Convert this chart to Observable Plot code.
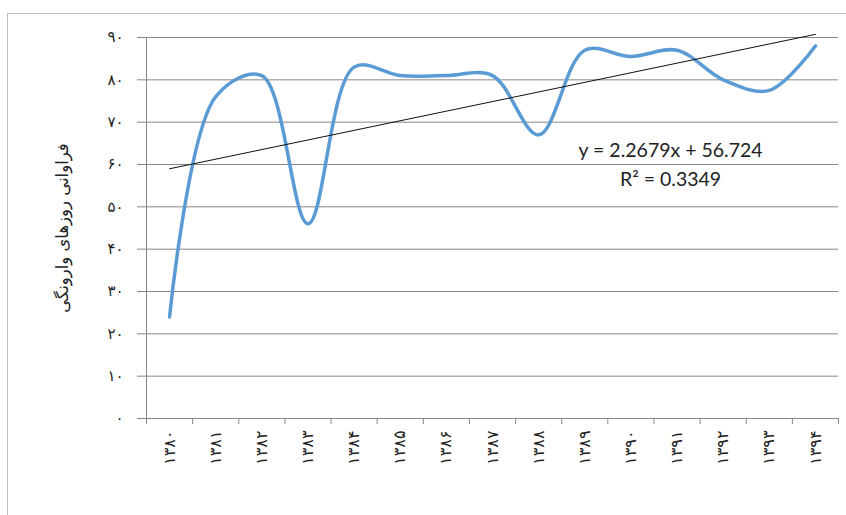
<!DOCTYPE html>
<html>
<head>
<meta charset="utf-8">
<script src="https://cdn.jsdelivr.net/npm/d3@7"></script>
<script src="https://cdn.jsdelivr.net/npm/@observablehq/plot@0.6"></script>
<style>
  html, body { margin: 0; padding: 0; background: #fff; }
  #wrap { position: relative; width: 846px; height: 515px; overflow: hidden; }
  #frame { position: absolute; left: 7px; top: 13px; width: 860px; height: 520px; border: 1px solid #bfbfbf; box-sizing: border-box; pointer-events: none; }
</style>
</head>
<body>
<div id="wrap"><div id="frame"></div></div>
<script>
const years = ["۱۳۸۰","۱۳۸۱","۱۳۸۲","۱۳۸۳","۱۳۸۴","۱۳۸۵","۱۳۸۶","۱۳۸۷","۱۳۸۸","۱۳۸۹","۱۳۹۰","۱۳۹۱","۱۳۹۲","۱۳۹۳","۱۳۹۴"];
const values = [24, 76, 81, 46, 83, 81, 81, 81, 67, 87, 85.5, 87, 80, 77.5, 88];
const yTicks = [0, 10, 20, 30, 40, 50, 60, 70, 80, 90];
const yTickLabels = ["۰","۱۰","۲۰","۳۰","۴۰","۵۰","۶۰","۷۰","۸۰","۹۰"];
const trendSlope = [2.2679];
const trendIntercept = [56.724];
const rSquared = [0.3349];
const yLabel = "فراوانی روزهای وارونگی";

const data = years.map((y, i) => ({idx: i + 1, label: y, value: values[i]}));
const bounds = d3.range(0, years.length + 1).map(i => i + 0.5);
const trend = [1, years.length].map(x => ({x, y: trendSlope[0] * x + trendIntercept[0]}));
const eqLines = [
  {t: `y = ${trendSlope[0]}x + ${trendIntercept[0]}`, y: 63.3},
  {t: `R² = ${rSquared[0]}`, y: 56.5}
];

const plot = Plot.plot({
  width: 846,
  height: 515,
  marginLeft: 146,
  marginRight: 8,
  marginTop: 37,
  marginBottom: 97,
  style: {background: "transparent", overflow: "visible"},
  x: {domain: [0.5, years.length + 0.5], axis: null},
  y: {domain: [0, 90], axis: null},
  marks: [
    Plot.ruleY(yTicks, {x1: 0.5, x2: years.length + 0.5, stroke: "#888", strokeWidth: 1}),
    Plot.ruleX([0.5], {y1: 0, y2: 90, stroke: "#888"}),
    Plot.axisY(yTicks, {tickSize: 9, tickPadding: 14, stroke: "#888", tickFormat: d => yTickLabels[yTicks.indexOf(d)], fontSize: 15, fill: "#222", fontFamily: "DejaVu Sans", label: null}),
    Plot.axisX(bounds, {tickSize: 6, tickFormat: () => "", stroke: "#888", label: null}),
    Plot.text(data, {x: "idx", y: 0, text: "label", rotate: -90, textAnchor: "end", dy: 12, fontSize: 16, fill: "#222", fontFamily: "DejaVu Sans"}),
    Plot.text([yLabel], {frameAnchor: "left", textAnchor: "middle", text: d => d, rotate: -90, dx: -84, fontSize: 16.5, fill: "#222", fontFamily: "DejaVu Sans"}),
    Plot.line(data, {x: "idx", y: "value", curve: "catmull-rom", stroke: "#5B9BD5", strokeWidth: 3.5}),
    Plot.line(trend, {x: "x", y: "y", stroke: "#111", strokeWidth: 1}),
    Plot.text(eqLines, {x: 11.86, y: "y", text: "t", fontSize: 19.5, fill: "#222", fontFamily: "Lato"})
  ]
});
document.getElementById("wrap").appendChild(plot);
</script>
</body>
</html>
